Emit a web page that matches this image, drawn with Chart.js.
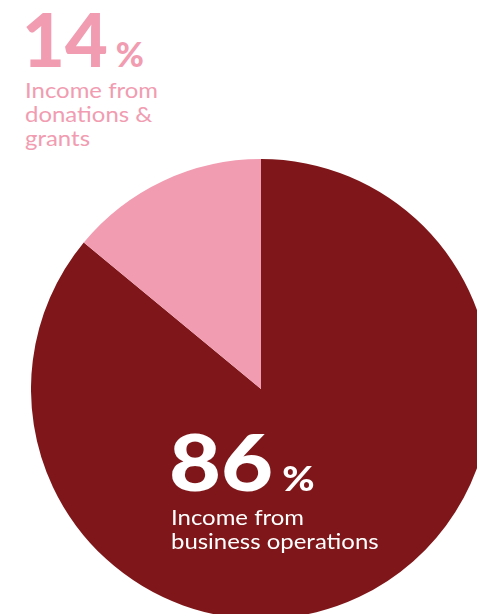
<!DOCTYPE html>
<html>
<head>
<meta charset="utf-8">
<script src="https://cdn.jsdelivr.net/npm/chart.js@4"></script>
<style>
  html, body {
    margin: 0;
    padding: 0;
    width: 477px;
    height: 614px;
    overflow: hidden;
    background: #ffffff;
  }
  #pieBox {
    position: absolute;
    left: 31px;
    top: 159px;
    width: 460px;
    height: 460px;
  }
  .label {
    position: absolute;
    z-index: 2;
    font-family: Lato, "Open Sans", sans-serif;
    transform-origin: left top;
    white-space: nowrap;
  }
  .big {
    font-weight: 900;
    line-height: 1;
  }
  .big span {
    font-size: 34px;
    margin-left: 8px;
  }
  .desc {
    font-weight: 400;
    font-size: 21px;
    line-height: 24px;
    transform: scaleX(1.14);
  }
</style>
</head>
<body>
<div id="pieBox"><canvas id="incomeChart"></canvas></div>

<div class="label big" style="left:22px; top:2px; font-size:74px; color:#f19cb1;">14<span>%</span></div>
<div class="label desc" style="left:25px; top:78px; color:#f19cb1;">Income from<br>donations &amp;<br>grants</div>

<div class="label big" style="left:169px; top:422px; font-size:78px; color:#ffffff; transform:scaleX(1.15);">86<span>%</span></div>
<div class="label desc" style="left:171px; top:505px; color:#ffffff;">Income from<br>business operations</div>

<script>
// income split, percent
const categories = ["Income from business operations", "Income from donations & grants"];
const shares = [86, 14];
const sliceColors = ["#7f171a", "#f19cb1"];

const ctx = document.getElementById("incomeChart").getContext("2d");
new Chart(ctx, {
  type: "pie",
  data: {
    labels: categories,
    datasets: [
      {
        data: shares,
        backgroundColor: sliceColors,
        borderWidth: 0,
      },
    ],
  },
  options: {
    responsive: true,
    maintainAspectRatio: false,
    animation: false,
    layout: { padding: 0 },
    plugins: {
      legend: { display: false },
      tooltip: { enabled: false },
    },
  },
});
</script>
</body>
</html>
